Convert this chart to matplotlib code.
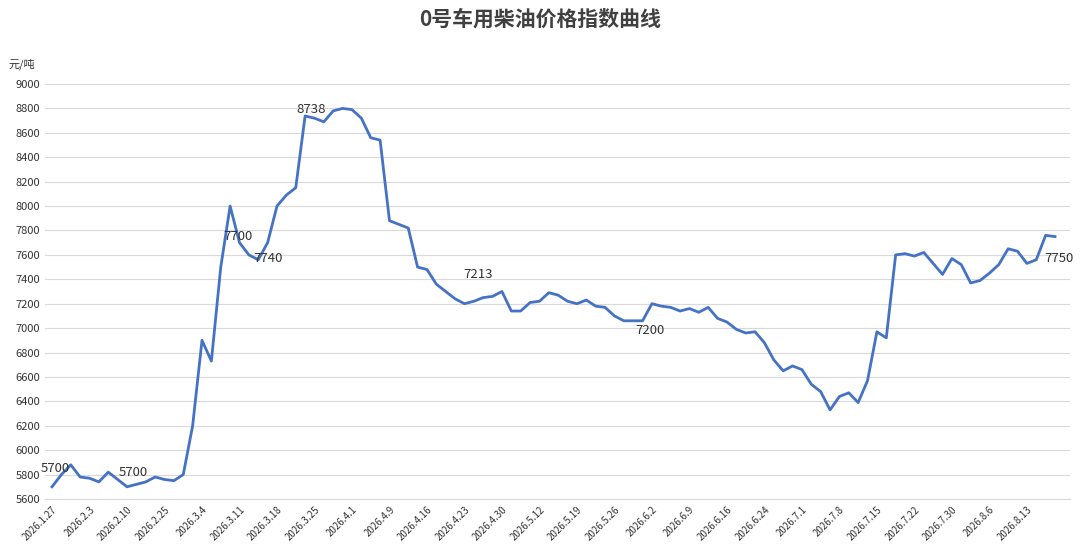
import matplotlib
matplotlib.use("Agg")
import matplotlib.pyplot as plt

plt.rcParams['font.family'] = ['Noto Sans CJK SC', 'DejaVu Sans']

# price index, ~4 samples per weekly tick
prices = [5700, 5800, 5880, 5780, 5770, 5740, 5820, 5760, 5700, 5720,
          5740, 5780, 5760, 5750, 5800, 6200, 6900, 6730, 7500, 8000,
          7700, 7600, 7560, 7700, 8000, 8090, 8150, 8738, 8720, 8690,
          8780, 8800, 8790, 8720, 8560, 8540, 7880, 7850, 7820, 7500,
          7480, 7360, 7300, 7240, 7200, 7220, 7250, 7260, 7300, 7140,
          7140, 7210, 7220, 7290, 7270, 7220, 7200, 7230, 7180, 7170,
          7100, 7060, 7060, 7060, 7200, 7180, 7170, 7140, 7160, 7130,
          7170, 7080, 7050, 6990, 6960, 6970, 6880, 6740, 6650, 6690,
          6660, 6540, 6480, 6330, 6440, 6470, 6390, 6570, 6970, 6920,
          7600, 7610, 7590, 7620, 7530, 7440, 7570, 7520, 7370, 7390,
          7450, 7520, 7650, 7630, 7530, 7560, 7760, 7750]

tick_labels = ['2026.1.27', '2026.2.3', '2026.2.10', '2026.2.25', '2026.3.4',
               '2026.3.11', '2026.3.18', '2026.3.25', '2026.4.1', '2026.4.9',
               '2026.4.16', '2026.4.23', '2026.4.30', '2026.5.12', '2026.5.19',
               '2026.5.26', '2026.6.2', '2026.6.9', '2026.6.16', '2026.6.24',
               '2026.7.1', '2026.7.8', '2026.7.15', '2026.7.22', '2026.7.30',
               '2026.8.6', '2026.8.13']

# labelled points: (index, text, x offset px, y offset px)
labels = [(0, '5700', -8, 11), (8, '5700', -6, 8), (20, '7700', -12, 2),
          (23, '7740', -10, -14), (27, '8738', -6, 2), (46, '7213', -14, 14),
          (64, '7200', -12, -22), (107, '7750', -8, -18)]

fig = plt.figure(figsize=(10.8, 5.6), dpi=100)
ax = fig.add_axes([45/1080, 61/560, 1025/1080, 415/560])

ax.plot(range(len(prices)), prices, color='#4472C4', lw=2)

for idx, txt, dx, dy in labels:
    ax.annotate(txt, (idx, prices[idx]), xytext=(dx, dy), textcoords='offset points',
                fontsize=9.5, color='#333333')

ax.set_xlim(-0.75, 108.6)
ax.set_ylim(5600, 9000)
ax.set_yticks(range(5600, 9001, 200))
ax.set_xticks(range(0, 4 * len(tick_labels), 4))
ax.set_xticklabels(tick_labels, rotation=45, ha='right', rotation_mode='anchor', fontsize=7, color='#333333')
ax.tick_params(axis='y', labelsize=8, colors='#333333', length=0)
ax.tick_params(axis='x', length=0, pad=4)
ax.grid(axis='y', color='#d9d9d9', lw=0.8)
for s in ['top', 'right', 'left']:
    ax.spines[s].set_visible(False)
ax.spines['bottom'].set_color('#d9d9d9')

ax.text(-0.01, 1.04, '元/吨', transform=ax.transAxes, fontsize=8, color='#333333', ha='right')
fig.suptitle('0号车用柴油价格指数曲线', fontsize=15, fontweight='bold', color='#404040', y=0.985)

fig.savefig('out.png', dpi=100)
